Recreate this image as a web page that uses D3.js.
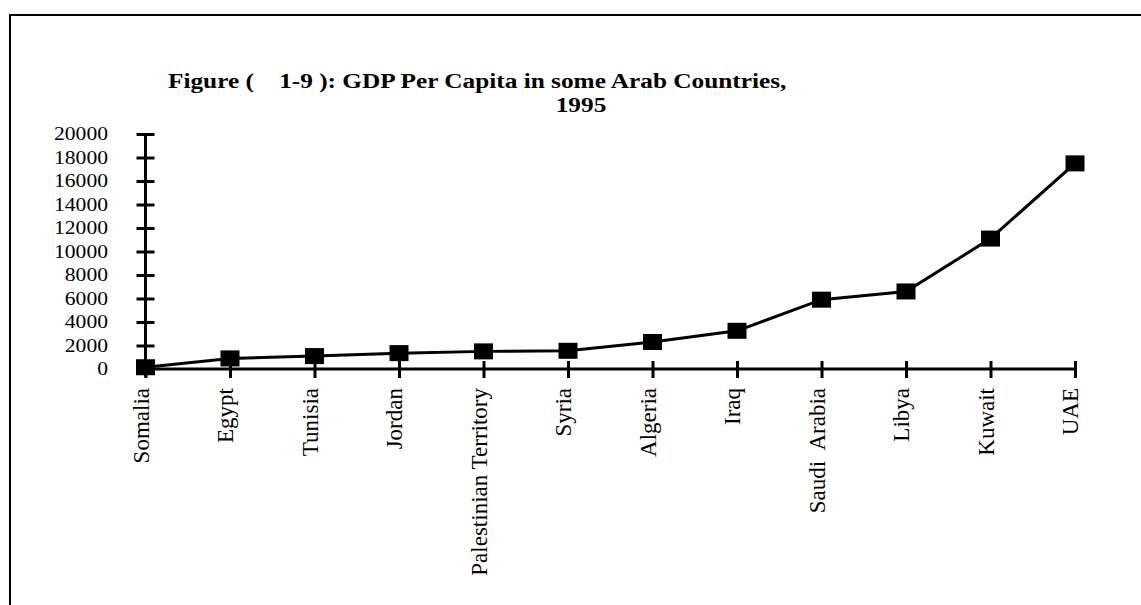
<!DOCTYPE html>
<html>
<head>
<meta charset="utf-8">
<script src="https://cdn.jsdelivr.net/npm/d3@7"></script>
<style>
  body { margin: 0; background: #fff; }
  text { font-family: "Liberation Serif", "Times New Roman", serif; fill: #000; white-space: pre; }
</style>
</head>
<body>
<div id="chart"></div>
<script>
// data
const countries = ["Somalia", "Egypt", "Tunisia", "Jordan", "Palestinian Territory", "Syria",
  "Algeria", "Iraq", "Saudi  Arabia", "Libya", "Kuwait", "UAE"];
const gdpPerCapita = [150, 900, 1100, 1350, 1500, 1550, 2300, 3250, 5900, 6600, 11100, 17500];
const yTicks = [0, 2000, 4000, 6000, 8000, 10000, 12000, 14000, 16000, 18000, 20000];
const titleLines = ["Figure (    1-9 ): GDP Per Capita in some Arab Countries,", "1995"];

const width = 1141, height = 605;

const svg = d3.select("#chart").append("svg")
  .attr("width", width)
  .attr("height", height);

svg.append("rect").attr("width", width).attr("height", height).attr("fill", "#fff");

// frame (left + top only visible)
svg.append("path")
  .attr("d", `M10,${height} L10,15 L${width},15`)
  .attr("fill", "none")
  .attr("stroke", "#000")
  .attr("stroke-width", 2);

const x = d3.scalePoint()
  .domain(countries)
  .range([145.5, 1075]);

const y = d3.scaleLinear()
  .domain([0, 20000])
  .range([369, 134]);

// title
svg.selectAll("text.title")
  .data(titleLines)
  .join("text")
  .attr("class", "title")
  .attr("transform", (d, i) => `translate(${i == 0 ? 168 : 581},${i == 0 ? 88 : 112}) scale(1.15,1)`)
  .attr("text-anchor", (d, i) => i == 0 ? "start" : "middle")
  .attr("font-weight", "bold")
  .attr("font-size", 22)
  .text(d => d);

// y axis
const yAxis = svg.append("g")
  .attr("transform", `translate(${x(countries[0])},0)`)
  .call(d3.axisLeft(y).tickValues(yTicks).tickSize(0).tickPadding(0));
yAxis.select(".domain").remove();
yAxis.selectAll(".tick text").remove();
yAxis.selectAll(".tick line")
  .attr("x1", -9).attr("x2", 9)
  .attr("stroke", "#000").attr("stroke-width", 3);
yAxis.append("line")
  .attr("y1", y(20000)).attr("y2", y(0) + 8)
  .attr("stroke", "#000").attr("stroke-width", 3);

svg.selectAll("text.ylab")
  .data(yTicks)
  .join("text")
  .attr("class", "ylab")
  .attr("transform", d => `translate(108,${y(d)}) scale(1.2,1)`)
  .attr("dy", "0.35em")
  .attr("text-anchor", "end")
  .attr("font-size", 18)
  .text(d => d);

// x axis
const xAxis = svg.append("g")
  .attr("transform", `translate(0,${y(0)})`)
  .call(d3.axisBottom(x).tickSize(0));
xAxis.select(".domain").remove();
xAxis.selectAll(".tick text").remove();
xAxis.selectAll(".tick line")
  .attr("y1", -8).attr("y2", 9)
  .attr("stroke", "#000").attr("stroke-width", 3);
xAxis.append("line")
  .attr("x1", x(countries[0])).attr("x2", x(countries[countries.length - 1]))
  .attr("stroke", "#000").attr("stroke-width", 3);

svg.selectAll("text.xlab")
  .data(countries)
  .join("text")
  .attr("class", "xlab")
  .attr("transform", d => `translate(${x(d) + 3},388) rotate(-90)`)
  .attr("text-anchor", "end")
  .attr("font-size", 23)
  .text(d => d);

// series
const line = d3.line()
  .x((d, i) => x(countries[i]))
  .y(d => y(d));

svg.append("path")
  .datum(gdpPerCapita)
  .attr("d", line)
  .attr("fill", "none")
  .attr("stroke", "#000")
  .attr("stroke-width", 3);

svg.selectAll("rect.marker")
  .data(gdpPerCapita)
  .join("rect")
  .attr("class", "marker")
  .attr("x", (d, i) => x(countries[i]) - 9.5)
  .attr("y", d => y(d) - 8)
  .attr("width", 19)
  .attr("height", 16)
  .attr("fill", "#000");
</script>
</body>
</html>
